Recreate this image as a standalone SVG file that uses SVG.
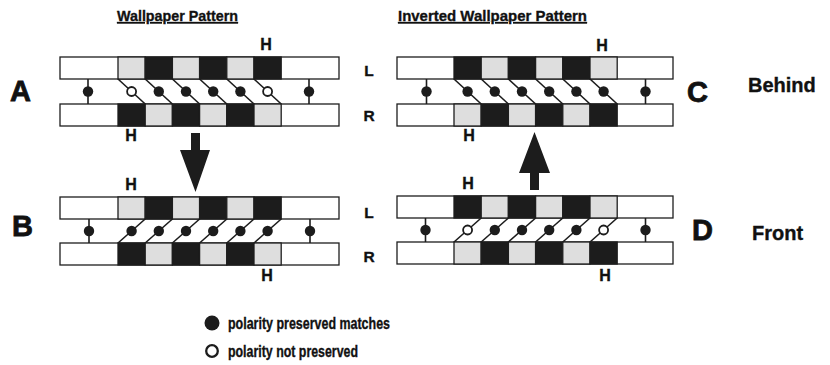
<svg xmlns="http://www.w3.org/2000/svg" width="830" height="365" viewBox="0 0 830 365">
  <style>
    .bg { fill: #ffffff; }
    .strip { fill: #ffffff; stroke: #1e1e1e; stroke-width: 1.3; }
    .lt { fill: #dedede; stroke: #1e1e1e; stroke-width: 1.3; }
    .dk { fill: #1c1c1c; stroke: #1e1e1e; stroke-width: 1.3; }
    .ln { stroke: #1c1c1c; stroke-width: 1.6; fill: none; }
    .dot { fill: #1c1c1c; }
    .odot { fill: #ffffff; stroke: #1c1c1c; stroke-width: 1.8; }
    .arrow { fill: #1c1c1c; }
    text { font-family: "Liberation Sans", Arial, sans-serif; font-weight: bold; fill: #111111; stroke: #111111; stroke-width: 0.35; }
    .big { font-size: 29px; stroke-width: 0.8; }
    .side { font-size: 20px; }
    .h { font-size: 16px; text-anchor: middle; }
    .lr { font-size: 15.5px; text-anchor: middle; }
    .title { font-size: 15.5px; text-decoration: underline; }
    .leg { font-size: 16px; }
  </style>

  <rect class="bg" x="0" y="0" width="830" height="365"/>

  <!-- column headings -->
  <text class="title" x="117" y="21" textLength="121" lengthAdjust="spacingAndGlyphs">Wallpaper Pattern</text>
  <text class="title" x="398" y="21" textLength="189" lengthAdjust="spacingAndGlyphs">Inverted Wallpaper Pattern</text>

  <!-- panel A: strands L (top) and R (bottom) -->
  <g id="panelA">
    <rect class="strip" x="60" y="57" width="279" height="22"/>
    <rect class="lt" x="118" y="57" width="27.2" height="22"/>
    <rect class="dk" x="145.2" y="57" width="27.2" height="22"/>
    <rect class="lt" x="172.4" y="57" width="27.2" height="22"/>
    <rect class="dk" x="199.6" y="57" width="27.2" height="22"/>
    <rect class="lt" x="226.8" y="57" width="27.2" height="22"/>
    <rect class="dk" x="254" y="57" width="27.2" height="22"/>
    <rect class="strip" x="60" y="104" width="279" height="22"/>
    <rect class="dk" x="118" y="104" width="27.2" height="22"/>
    <rect class="lt" x="145.2" y="104" width="27.2" height="22"/>
    <rect class="dk" x="172.4" y="104" width="27.2" height="22"/>
    <rect class="lt" x="199.6" y="104" width="27.2" height="22"/>
    <rect class="dk" x="226.8" y="104" width="27.2" height="22"/>
    <rect class="lt" x="254" y="104" width="27.2" height="22"/>
  </g>

  <!-- panel B -->
  <g id="panelB">
    <rect class="strip" x="60" y="197" width="279" height="22"/>
    <rect class="lt" x="118" y="197" width="27.2" height="22"/>
    <rect class="dk" x="145.2" y="197" width="27.2" height="22"/>
    <rect class="lt" x="172.4" y="197" width="27.2" height="22"/>
    <rect class="dk" x="199.6" y="197" width="27.2" height="22"/>
    <rect class="lt" x="226.8" y="197" width="27.2" height="22"/>
    <rect class="dk" x="254" y="197" width="27.2" height="22"/>
    <rect class="strip" x="60" y="243" width="279" height="22"/>
    <rect class="dk" x="118" y="243" width="27.2" height="22"/>
    <rect class="lt" x="145.2" y="243" width="27.2" height="22"/>
    <rect class="dk" x="172.4" y="243" width="27.2" height="22"/>
    <rect class="lt" x="199.6" y="243" width="27.2" height="22"/>
    <rect class="dk" x="226.8" y="243" width="27.2" height="22"/>
    <rect class="lt" x="254" y="243" width="27.2" height="22"/>
  </g>

  <!-- panel C -->
  <g id="panelC">
    <rect class="strip" x="397" y="57" width="276" height="22"/>
    <rect class="dk" x="454" y="57" width="27.2" height="22"/>
    <rect class="lt" x="481.2" y="57" width="27.2" height="22"/>
    <rect class="dk" x="508.4" y="57" width="27.2" height="22"/>
    <rect class="lt" x="535.6" y="57" width="27.2" height="22"/>
    <rect class="dk" x="562.8" y="57" width="27.2" height="22"/>
    <rect class="lt" x="590" y="57" width="27.2" height="22"/>
    <rect class="strip" x="397" y="104" width="276" height="22"/>
    <rect class="lt" x="454" y="104" width="27.2" height="22"/>
    <rect class="dk" x="481.2" y="104" width="27.2" height="22"/>
    <rect class="lt" x="508.4" y="104" width="27.2" height="22"/>
    <rect class="dk" x="535.6" y="104" width="27.2" height="22"/>
    <rect class="lt" x="562.8" y="104" width="27.2" height="22"/>
    <rect class="dk" x="590" y="104" width="27.2" height="22"/>
  </g>

  <!-- panel D -->
  <g id="panelD">
    <rect class="strip" x="397" y="196" width="276" height="22"/>
    <rect class="dk" x="454" y="196" width="27.2" height="22"/>
    <rect class="lt" x="481.2" y="196" width="27.2" height="22"/>
    <rect class="dk" x="508.4" y="196" width="27.2" height="22"/>
    <rect class="lt" x="535.6" y="196" width="27.2" height="22"/>
    <rect class="dk" x="562.8" y="196" width="27.2" height="22"/>
    <rect class="lt" x="590" y="196" width="27.2" height="22"/>
    <rect class="strip" x="397" y="242" width="276" height="22"/>
    <rect class="lt" x="454" y="242" width="27.2" height="22"/>
    <rect class="dk" x="481.2" y="242" width="27.2" height="22"/>
    <rect class="lt" x="508.4" y="242" width="27.2" height="22"/>
    <rect class="dk" x="535.6" y="242" width="27.2" height="22"/>
    <rect class="lt" x="562.8" y="242" width="27.2" height="22"/>
    <rect class="dk" x="590" y="242" width="27.2" height="22"/>
  </g>

  <!-- pairing links between the strands, with their match markers -->
  <g id="connectors">
    <!-- A -->
    <line class="ln" x1="88" y1="79" x2="88" y2="104"/>
    <line class="ln" x1="309" y1="79" x2="309" y2="104"/>
    <line class="ln" x1="118" y1="79" x2="145.2" y2="104"/>
    <line class="ln" x1="145.2" y1="79" x2="172.4" y2="104"/>
    <line class="ln" x1="172.4" y1="79" x2="199.6" y2="104"/>
    <line class="ln" x1="199.6" y1="79" x2="226.8" y2="104"/>
    <line class="ln" x1="226.8" y1="79" x2="254" y2="104"/>
    <line class="ln" x1="254" y1="79" x2="281.2" y2="104"/>
    <circle class="dot" cx="88" cy="91.5" r="5.2"/>
    <circle class="dot" cx="309" cy="91.5" r="5.2"/>
    <circle class="odot" cx="131.6" cy="91.5" r="4.5"/>
    <circle class="dot" cx="158.8" cy="91.5" r="5.2"/>
    <circle class="dot" cx="186" cy="91.5" r="5.2"/>
    <circle class="dot" cx="213.2" cy="91.5" r="5.2"/>
    <circle class="dot" cx="240.4" cy="91.5" r="5.2"/>
    <circle class="odot" cx="267.6" cy="91.5" r="4.5"/>
    <!-- B -->
    <line class="ln" x1="89" y1="219" x2="89" y2="243"/>
    <line class="ln" x1="310" y1="219" x2="310" y2="243"/>
    <line class="ln" x1="118" y1="243" x2="145.2" y2="219"/>
    <line class="ln" x1="145.2" y1="243" x2="172.4" y2="219"/>
    <line class="ln" x1="172.4" y1="243" x2="199.6" y2="219"/>
    <line class="ln" x1="199.6" y1="243" x2="226.8" y2="219"/>
    <line class="ln" x1="226.8" y1="243" x2="254" y2="219"/>
    <line class="ln" x1="254" y1="243" x2="281.2" y2="219"/>
    <circle class="dot" cx="89" cy="231" r="5.2"/>
    <circle class="dot" cx="310" cy="231" r="5.2"/>
    <circle class="dot" cx="131.6" cy="231" r="5.2"/>
    <circle class="dot" cx="158.8" cy="231" r="5.2"/>
    <circle class="dot" cx="186" cy="231" r="5.2"/>
    <circle class="dot" cx="213.2" cy="231" r="5.2"/>
    <circle class="dot" cx="240.4" cy="231" r="5.2"/>
    <circle class="dot" cx="267.6" cy="231" r="5.2"/>
    <!-- C -->
    <line class="ln" x1="426.5" y1="79" x2="426.5" y2="104"/>
    <line class="ln" x1="645.5" y1="79" x2="645.5" y2="104"/>
    <line class="ln" x1="454" y1="79" x2="481.2" y2="104"/>
    <line class="ln" x1="481.2" y1="79" x2="508.4" y2="104"/>
    <line class="ln" x1="508.4" y1="79" x2="535.6" y2="104"/>
    <line class="ln" x1="535.6" y1="79" x2="562.8" y2="104"/>
    <line class="ln" x1="562.8" y1="79" x2="590" y2="104"/>
    <line class="ln" x1="590" y1="79" x2="617.2" y2="104"/>
    <circle class="dot" cx="426.5" cy="91.5" r="5.2"/>
    <circle class="dot" cx="645.5" cy="91.5" r="5.2"/>
    <circle class="dot" cx="467.6" cy="91.5" r="5.2"/>
    <circle class="dot" cx="494.8" cy="91.5" r="5.2"/>
    <circle class="dot" cx="522" cy="91.5" r="5.2"/>
    <circle class="dot" cx="549.2" cy="91.5" r="5.2"/>
    <circle class="dot" cx="576.4" cy="91.5" r="5.2"/>
    <circle class="dot" cx="603.6" cy="91.5" r="5.2"/>
    <!-- D -->
    <line class="ln" x1="425.5" y1="218" x2="425.5" y2="242"/>
    <line class="ln" x1="645.5" y1="218" x2="645.5" y2="242"/>
    <line class="ln" x1="454" y1="242" x2="481.2" y2="218"/>
    <line class="ln" x1="481.2" y1="242" x2="508.4" y2="218"/>
    <line class="ln" x1="508.4" y1="242" x2="535.6" y2="218"/>
    <line class="ln" x1="535.6" y1="242" x2="562.8" y2="218"/>
    <line class="ln" x1="562.8" y1="242" x2="590" y2="218"/>
    <line class="ln" x1="590" y1="242" x2="617.2" y2="218"/>
    <circle class="dot" cx="425.5" cy="230" r="5.2"/>
    <circle class="dot" cx="645.5" cy="230" r="5.2"/>
    <circle class="odot" cx="467.6" cy="230" r="4.5"/>
    <circle class="dot" cx="494.8" cy="230" r="5.2"/>
    <circle class="dot" cx="522" cy="230" r="5.2"/>
    <circle class="dot" cx="549.2" cy="230" r="5.2"/>
    <circle class="dot" cx="576.4" cy="230" r="5.2"/>
    <circle class="odot" cx="603.6" cy="230" r="4.5"/>
  </g>

  <!-- transition arrows -->
  <g id="arrowAB">
    <path class="arrow" d="M191,133 H200 V150 H210 L195.5,192 L180,150 H191 Z"/>
  </g>
  <g id="arrowDC">
    <path class="arrow" d="M534.5,132 L550,173 H539 V190 H530 V173 H519 Z"/>
  </g>

  <!-- panel letters and side labels -->
  <text class="big" x="10" y="101">A</text>
  <text class="big" x="12" y="236">B</text>
  <text class="big" x="687" y="102">C</text>
  <text class="big" x="692" y="240">D</text>
  <text class="side" x="748" y="92">Behind</text>
  <text class="side" x="752" y="240">Front</text>

  <!-- strand names -->
  <text class="lr" x="369" y="76">L</text>
  <text class="lr" x="369" y="121">R</text>
  <text class="lr" x="369" y="218">L</text>
  <text class="lr" x="369" y="262">R</text>

  <!-- H markers -->
  <text class="h" x="266" y="50">H</text>
  <text class="h" x="131" y="141">H</text>
  <text class="h" x="131" y="190">H</text>
  <text class="h" x="267" y="281">H</text>
  <text class="h" x="602" y="51">H</text>
  <text class="h" x="469" y="141">H</text>
  <text class="h" x="468" y="189">H</text>
  <text class="h" x="605" y="281">H</text>

  <!-- legend -->
  <g id="legend">
    <circle class="dot" cx="212" cy="323" r="7.5"/>
    <text class="leg" x="228" y="329" textLength="162" lengthAdjust="spacingAndGlyphs">polarity preserved matches</text>
    <circle class="odot" cx="212" cy="351" r="5.8" style="stroke-width:2.3"/>
    <text class="leg" x="228" y="357" textLength="130" lengthAdjust="spacingAndGlyphs">polarity not preserved</text>
  </g>
</svg>
